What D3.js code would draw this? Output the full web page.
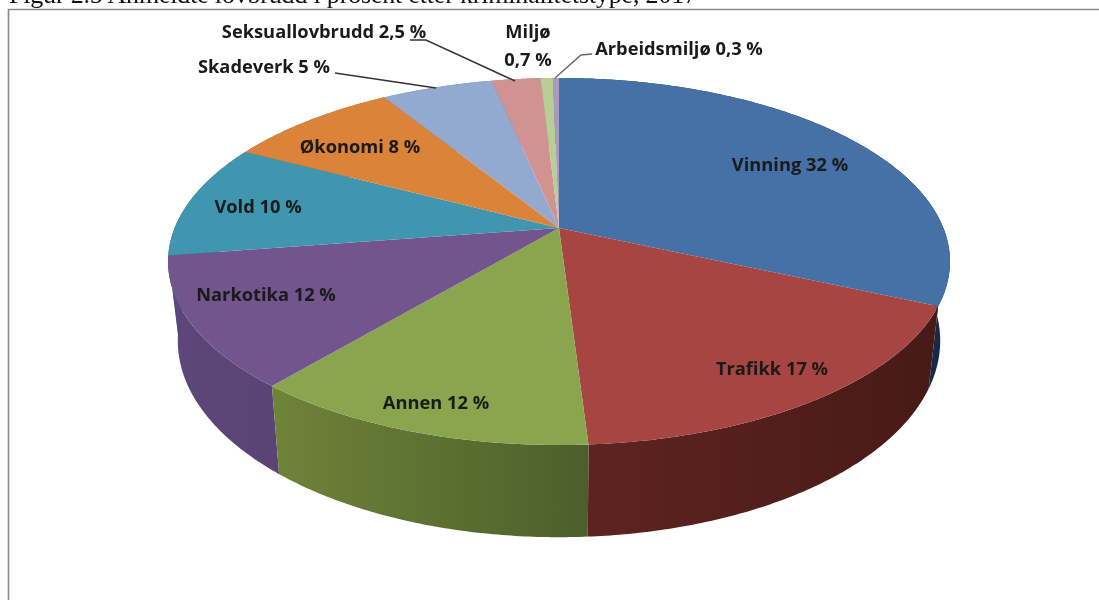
<!DOCTYPE html>
<html>
<head>
<meta charset="utf-8">
<script src="https://cdn.jsdelivr.net/npm/d3@7"></script>
<style>
html,body{margin:0;padding:0;background:#fff;overflow:hidden}
svg{filter:blur(0.45px)}
text{font-family:"Open Sans",sans-serif;font-weight:700;fill:#1a1a1a}
.title{font-family:"Liberation Serif",serif;font-weight:400;fill:#111}
</style>
</head>
<body>
<div class="map"></div>
<script>
const categories = ["Vinning","Trafikk","Annen","Narkotika","Vold","Økonomi","Skadeverk","Seksuallovbrudd","Miljø","Arbeidsmiljø"];
//slice sizes, the printed labels are rounded
const shares = [31.7,17.3,12.1,11.5,10.1,8.5,5.5,2.4,0.6,0.3];
const shareLabels = ["32 %","17 %","12 %","12 %","10 %","8 %","5 %","2,5 %","0,7 %","0,3 %"];
const titleText = "Figur 2.5 Anmeldte lovbrudd i prosent etter kriminalitetstype, 2017";

//colors
const topColors = ["#4571a6","#a74543","#89a54e","#71558c","#4096ae","#db8439","#93a9d0","#d19392","#b9cd96","#a99bbd"];
const wallLight = ["#1f3c63","#5e2320","#6f8339","#5d4679","#2f7085","#a86128","#6f83a8","#a06f6e","#8fa070","#7f7292"];
const wallDark  = ["#15294a","#471a17","#4c5f2b","#5a4476","#2f7085","#a86128","#6f83a8","#a06f6e","#8fa070","#7f7292"];

var svg = d3.select("div.map")
            .append("svg")
            .attr("width", 1099)
            .attr("height", 600);

var defs = svg.append("defs");

//frame, open on the right and at the bottom
svg.append("path")
   .attr("d", "M8.5,600V9.5H1099")
   .attr("fill", "none")
   .attr("stroke", "#8a8a8a")
   .attr("stroke-width", 1.6);

//title is cut by the top of the page in the reference too
svg.append("text")
   .attr("class", "title")
   .attr("x", 9)
   .attr("y", 3)
   .attr("font-size", 26)
   .attr("textLength", 688)
   .text(titleText);

//perspective pie: apex, radii and tilt fitted from the picture
const cx = 559, cy = 228;
const R = 384.4, S = 177.4, k = 0.1826;

function project(a){
    //a = clockwise from 12 o'clock
    var X = Math.sin(a), Y = -Math.cos(a);
    var d = 1 - k*Y;
    return [cx + R*X/d, cy + S*Y/d];
}
//foot of the wall under a point of the top face
function foot(p){
    return [cx + (p[0]-cx)*0.975, p[1]*1.07 + 61];
}
function arcPoints(a0, a1){
    var n = Math.max(2, Math.ceil((a1-a0)/0.01));
    return d3.range(n+1).map(function(i){ return project(a0 + (a1-a0)*i/n); });
}

const pie = d3.pie().sort(null).value(function(d){ return d; });
const arcs = pie(shares);
const line = d3.line();

//walls, back to front
var chart = svg.append("g");

var wallOrder = arcs.map(function(d,i){ return i; }).sort(function(a,b){
    return project((arcs[a].startAngle+arcs[a].endAngle)/2)[1] - project((arcs[b].startAngle+arcs[b].endAngle)/2)[1];
});

wallOrder.forEach(function(i){
    var d = arcs[i];
    var pts = arcPoints(d.startAngle, d.endAngle);
    var xs = d3.extent(pts, function(p){ return p[0]; });
    var grad = defs.append("linearGradient")
                   .attr("id", "wall"+i)
                   .attr("gradientUnits", "userSpaceOnUse")
                   .attr("x1", xs[0]).attr("x2", xs[1])
                   .attr("y1", 0).attr("y2", 0);
    grad.append("stop").attr("offset", 0).attr("stop-color", wallLight[i]);
    grad.append("stop").attr("offset", 1).attr("stop-color", wallDark[i]);
    var poly = pts.concat(pts.map(foot).reverse());
    chart.append("path")
         .attr("d", line(poly) + "Z")
         .attr("fill", "url(#wall"+i+")");
});

//top face
chart.selectAll(".slice")
     .data(arcs)
     .enter()
     .append("path")
         .attr("class", "slice")
         .attr("d", function(d){
             return line([[cx,cy]].concat(arcPoints(d.startAngle, d.endAngle))) + "Z";
         })
         .attr("fill", function(d,i){ return topColors[i]; });

//labels
const labelPos = [
    {x:790, y:171}, {x:772, y:375}, {x:436, y:409}, {x:266, y:301}, {x:258, y:213},
    {x:360, y:153}, {x:264, y:73},  {x:324, y:38},  {x:528, y:38},  {x:679, y:55}
];
const lab = svg.append("g").attr("text-anchor", "middle").attr("font-size", 18.3);

categories.forEach(function(c,i){
    if(i === 8){
        lab.append("text").attr("x", labelPos[i].x).attr("y", labelPos[i].y).text(c);
        lab.append("text").attr("x", labelPos[i].x).attr("y", labelPos[i].y+28).text(shareLabels[i]);
    } else {
        lab.append("text").attr("x", labelPos[i].x).attr("y", labelPos[i].y).text(c + " " + shareLabels[i]);
    }
});

//leader lines
const leaders = [
    {from:[335,73], mid:[335,73], to:[436,88]},
    {from:[410,40], mid:[426,40], to:[515,81]},
    {from:[592,54], mid:[581,55], to:[555,78]}
];
svg.selectAll(".leader")
   .data(leaders)
   .enter()
   .append("polyline")
       .attr("class", "leader")
       .attr("points", function(d){ return [d.from,d.mid,d.to].join(" "); })
       .attr("fill", "none")
       .attr("stroke", function(d,i){ return i === 2 ? "#666" : "#333"; })
       .attr("stroke-width", 1.4);
</script>
</body>
</html>
